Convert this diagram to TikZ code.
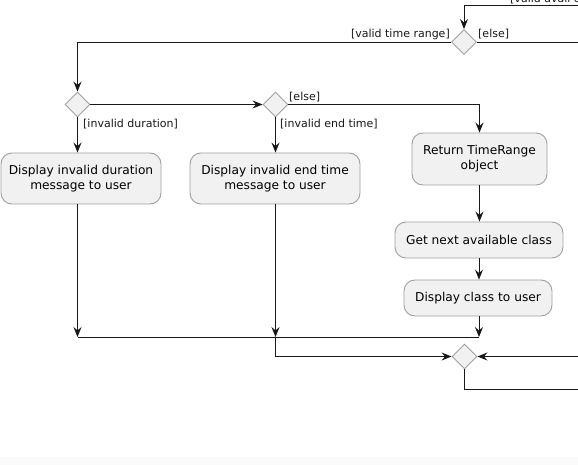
\documentclass[tikz,border=0pt]{standalone}
\usepackage{fontspec}
\newfontfamily\df{DejaVu Sans}
\usetikzlibrary{arrows.meta,shapes.geometric}
\definecolor{boxfill}{HTML}{F1F1F1}
\definecolor{boxline}{HTML}{A0A0A0}
\definecolor{lin}{HTML}{181818}
\definecolor{bgstrip}{HTML}{FAFAFA}
\tikzset{
  act/.style={draw=boxline, fill=boxfill, line width=0.9pt, rounded corners=11pt,
    align=center, inner sep=0pt, font=\df\fontsize{12.2}{15}\selectfont},
  dec/.style={draw=boxline, fill=boxfill, line width=0.9pt, diamond, inner sep=0pt,
    minimum width=25pt, minimum height=25pt},
  flow/.style={draw=lin, line width=0.9pt},
  arr/.style={flow, -{Stealth[length=10pt,width=8pt,inset=3.5pt]}},
  guard/.style={font=\df\fontsize{11}{13}\selectfont, inner sep=0pt, text=lin},
}
\begin{document}
\begin{tikzpicture}[x=1pt,y=-1pt]
\useasboundingbox (0,0) rectangle (578,465);
\clip (0,0) rectangle (578,465);
\fill[bgstrip] (0,457) rectangle (578,465);

% decisions
\node[dec] (d1) at (464,42) {};
\node[dec] (d2) at (77.5,104.5) {};
\node[dec] (d3) at (275.5,104.5) {};
\node[dec] (d4) at (464.5,356.5) {};

% activities
\node[act, minimum width=160pt, minimum height=51pt] (b1) at (81,178.5) {Display invalid duration\\message to user};
\node[act, minimum width=170pt, minimum height=51pt] (b2) at (275,178.5) {Display invalid end time\\message to user};
\node[act, minimum width=135pt, minimum height=52pt] (b3) at (479.5,159) {Return TimeRange\\object};
\node[act, minimum width=168pt, minimum height=36pt] (b4) at (479,240) {Get next available class};
\node[act, minimum width=148pt, minimum height=36pt] (b5) at (478,298) {Display class to user};

% free ends
\coordinate (inTop) at (578,5);
\coordinate (outElse) at (578,42);
\coordinate (inRight) at (578,356.5);
\coordinate (outBottom) at (578,389);
\coordinate (mL) at (77.5,337);
\coordinate (mM) at (275.5,337);
\coordinate (mR) at (479,337);

% guards
\node[guard, anchor=base west] (gtop) at (510,3) {[valid avail c};
\node[guard, anchor=base east] (g1) at (450,38) {[valid time range]};
\node[guard, anchor=base west] (g2) at (478,38) {[else]};
\node[guard, anchor=base west] (g3) at (83,128) {[invalid duration]};
\node[guard, anchor=base west] (g4) at (280,128) {[invalid end time]};
\node[guard, anchor=base west] (g5) at (289,101) {[else]};

% connectors
\draw[arr] (inTop) -| (d1.north);
\draw[arr] (d1.west) -| (d2.north);
\draw[flow] (d1.east) -- (d1.east -| outElse);
\draw[arr] (d2.east) -- (d3.west);
\draw[arr] (d2.south) -- (d2.south |- b1.north);
\draw[arr] (d3.south) -- (d3.south |- b2.north);
\draw[arr] (d3.east) -| (b3.north);
\draw[arr] (b3.south) -- (b3.south |- b4.north);
\draw[arr] (b4.south) -- (b4.south |- b5.north);
\draw[arr] (b1.south -| d2.south) -- (mL);
\draw[arr] (b2.south -| d3.south) -- (mM);
\draw[arr] (b5.south -| mR) -- (mR);
\draw[flow] (mL) -- (mR);
\draw[arr] (mM) |- (d4.west);
\draw[arr] (d4.east -| inRight) -- (d4.east);
\draw[flow] (d4.south) |- (outBottom);
\end{tikzpicture}
\end{document}
